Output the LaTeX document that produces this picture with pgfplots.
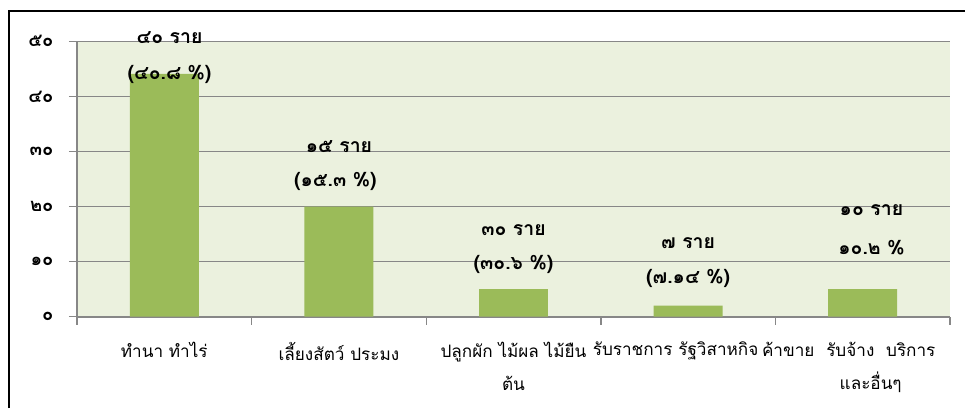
\documentclass[border=0pt]{standalone}
\usepackage{pgfplots}
\pgfplotsset{compat=1.18}
\usepackage{fontspec}
\setmainfont{Liberation Sans}
\newfontfamily\thaifont[Script=Thai]{Loma}
\definecolor{barcol}{HTML}{9BBB59}
\definecolor{bgcol}{HTML}{EBF1DE}
\definecolor{gridcol}{HTML}{878787}
\begin{document}
\begin{tikzpicture}[x=1bp,y=1bp]
\useasboundingbox (0,0) rectangle (965,408);
\draw[line width=2bp,black] (9,0) -- (9,397) -- (965,397);
\begin{axis}[
  at={(77bp,91.3bp)}, anchor=south west,
  scale only axis, width=873bp, height=275.4bp,
  xmin=-0.5, xmax=4.5, ymin=0, ymax=50,
  axis background/.style={fill=bgcol},
  axis x line*=bottom, axis y line*=left,
  axis line style={draw=gridcol, line width=1.6bp, -},
  ymajorgrids, major grid style={draw=gridcol, line width=1.4bp},
  tick align=outside, major tick length=8bp,
  tick style={draw=gridcol, line width=1.4bp},
  ytick={0,10,20,30,40,50},
  yticklabels={๐,๑๐,๒๐,๓๐,๔๐,๕๐},
  yticklabel style={font=\thaifont\bfseries\fontsize{18.5}{20}\selectfont, anchor=east, xshift=-12bp},
  xtick={-0.5,0.5,1.5,2.5,3.5,4.5},
  xticklabels={},
  extra x ticks={0,1,2,3,4},
  extra x tick labels={ทำนา ทำไร่, เลี้ยงสัตว์ ประมง, {ปลูกผัก ไม้ผล ไม้ยืน\\ต้น}, {\hspace*{-25bp}รับราชการ รัฐวิสาหกิจ}, {\hspace*{-28bp}ค้าขาย\hspace{6bp} รับจ้าง\hspace{6bp} บริการ\\\hspace*{16bp}และอื่นๆ}},
  extra x tick style={major tick length=0pt, grid=none},
  xticklabel style={font=\thaifont\fontsize{17.2}{33.5}\selectfont, align=center, anchor=north, yshift=-22bp},
  clip=false,
]
\addplot[ybar, bar width=0.395, fill=barcol, draw=none, bar shift=0pt] coordinates {(0,44.1) (1,20) (2,5) (3,2) (4,5)};
\tikzset{lab/.style={font=\thaifont\bfseries\fontsize{19.5}{21}\selectfont, anchor=center, inner sep=0pt}}
\node[lab] at (axis cs:0.03,50.6) {๔๐ ราย};
\node[lab] at (axis cs:0.03,43.9) {(๔๐.๘ \%)};
\node[lab] at (axis cs:1,30.8) {๑๕ ราย};
\node[lab] at (axis cs:0.98,24.5) {(๑๕.๓ \%)};
\node[lab] at (axis cs:2,15.7) {๓๐ ราย};
\node[lab] at (axis cs:2,9.4) {(๓๐.๖ \%)};
\node[lab] at (axis cs:3,13.4) {๗ ราย};
\node[lab] at (axis cs:3,7.0) {(๗.๑๔ \%)};
\node[lab] at (axis cs:4.05,19.4) {๑๐ ราย};
\node[lab] at (axis cs:4.05,12.5) {๑๐.๒ \%};
\end{axis}
\end{tikzpicture}
\end{document}
